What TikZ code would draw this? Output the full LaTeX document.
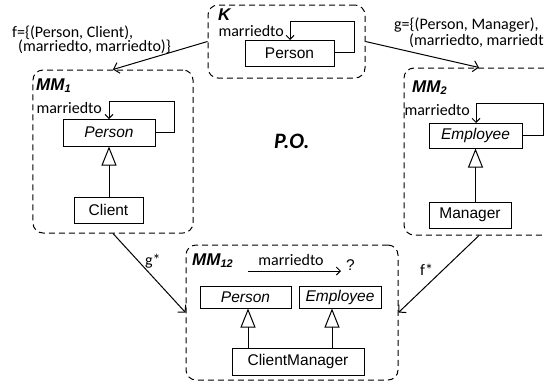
\documentclass[tikz,border=0pt]{standalone}
\usepackage{fontspec}
\setmainfont{Liberation Sans}
\newfontfamily\lblfont{Carlito}
\usetikzlibrary{arrows.meta,calc}

\tikzset{
  pkg/.style={draw, line width=1bp, dash pattern=on 6bp off 4bp, rounded corners=10bp, inner sep=0},
  cls/.style={draw, line width=1bp, inner sep=0, font=\fontsize{15.5bp}{18bp}\selectfont},
  abstr/.style={cls, font=\fontsize{15.5bp}{18bp}\selectfont\itshape},
  pkgname/.style={anchor=base west, inner sep=0, font=\fontsize{17bp}{18bp}\selectfont\bfseries\itshape},
  lbl/.style={inner sep=0, font=\lblfont\fontsize{16bp}{14bp}\selectfont},
  maplbl/.style={lbl, anchor=base west, align=left},
  assoc/.style={line width=1bp, -{Straight Barb[length=4bp,width=8bp,line width=1bp]}},
  morph/.style={line width=1bp, -{Straight Barb[length=5bp,width=11bp,line width=1bp]}},
  inherit/.style={line width=1bp, -{Triangle[open,length=19bp,width=15bp,line width=1bp]}},
}

\begin{document}
\begin{tikzpicture}[x=1bp, y=-1bp]
\useasboundingbox (0,0) rectangle (544,387);

% ---- K ----
\node[pkg, minimum width=157bp, minimum height=73bp] (K) at (286.5,41.5) {};
\node[pkgname] (Kname) at (218,20) {K};
\node[cls, minimum width=89bp, minimum height=26bp] (KP) at (289.5,53) {Person};
\coordinate (KPloop) at (290,40);
\draw[assoc] (KP.east |- 0,52) -- (354,52) -- (354,21) -- (290,21) -- (KPloop);
\node[lbl, anchor=base east] (Klbl) at (284,36) {marriedto};

% ---- MM1 ----
\node[pkg, minimum width=160bp, minimum height=163bp] (MM1) at (113,151.5) {};
\node[pkgname] (MM1name) at (36,90) {MM\textsubscript{\fontsize{11bp}{12bp}\selectfont 1}};
\node[abstr, minimum width=92bp, minimum height=27bp] (P1) at (109,132.5) {Person};
\node[cls, minimum width=69bp, minimum height=26bp] (C1) at (108.5,210) {Client};
\coordinate (P1loop) at (109,119);
\draw[assoc] (P1.east) -- (174,132.5) -- (174,101) -- (109,101) -- (P1loop);
\node[lbl, anchor=base east] (P1lbl) at (102,113) {marriedto};
\draw[inherit] (C1.north -| P1.south) -- (P1.south);

% ---- MM2 ----
\node[pkg, minimum width=150bp, minimum height=167bp] (MM2) at (479,151.5) {};
\node[pkgname] (MM2name) at (412,92) {MM\textsubscript{\fontsize{11bp}{12bp}\selectfont 2}};
\node[abstr, minimum width=93bp, minimum height=25bp] (E2) at (475.5,135.5) {Employee};
\node[cls, minimum width=82bp, minimum height=26bp] (M2) at (470,215) {Manager};
\coordinate (E2loop) at (476,123);
\draw[assoc] (E2.east) -- (543,135.5) -- (543,103) -- (476,103) -- (E2loop);
\node[lbl, anchor=base east] (E2lbl) at (470,115) {marriedto};
\draw[inherit] (M2.north -| E2.south) -- (E2.south);

% ---- MM12 ----
\node[pkg, minimum width=212bp, minimum height=135bp] (MM12) at (292,312.5) {};
\node[pkgname] (MM12name) at (192,265) {MM\textsubscript{\fontsize{11bp}{12bp}\selectfont 12}};
\node[abstr, minimum width=91bp, minimum height=22bp] (P12) at (245.5,297) {Person};
\node[abstr, minimum width=82bp, minimum height=22bp] (E12) at (340,297) {Employee};
\node[cls, minimum width=132bp, minimum height=27bp] (CM) at (298,361.5) {ClientManager};
\draw[inherit] (CM.north -| 248,0) -- (P12.south -| 248,0);
\draw[inherit] (CM.north -| 332,0) -- (E12.south -| 332,0);
\coordinate (mA) at (248,271);
\coordinate (mB) at (341,271);
\draw[assoc] (mA) -- (mB);
\node[lbl, anchor=base] (mlbl) at (291,265) {marriedto};
\node[anchor=base west, inner sep=0, font=\fontsize{15.5bp}{18bp}\selectfont] (q) at (346,270) {?};

% ---- P.O. ----
\node[anchor=base west, inner sep=0, font=\lblfont\fontsize{22bp}{24bp}\selectfont\bfseries\itshape] (PO) at (274,148) {P.O.};

% ---- morphisms ----
\draw[morph] (K.west) -- (MM1.north);
\draw[morph] (K.east) -- (MM2.north);
\draw[morph] (MM1.south) -- (MM12.west);
\draw[morph] (MM2.south) -- (MM12.east);

\node[maplbl] (fmap) at (12,51) {f=\{(Person, Client),\\\hspace*{6bp}(marriedto, marriedto)\}};
\node[maplbl] (gmap) at (394,45) {g=\{(Person, Manager),\\\hspace*{15bp}(marriedto, marriedto)\}};
\node[lbl, anchor=base west] (gs) at (145,265) {g*};
\node[lbl, anchor=base west] (fs) at (420,275) {f*};
\end{tikzpicture}
\end{document}
